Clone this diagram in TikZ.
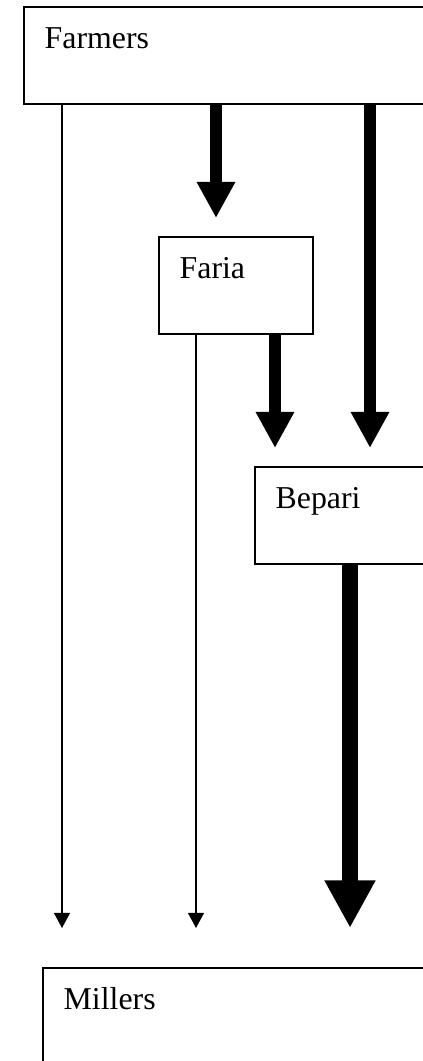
\documentclass[tikz,border=0pt]{standalone}
\usepackage{fontspec}
\setmainfont{Liberation Serif}
\usetikzlibrary{arrows.meta}

\newcommand{\varpx}{0.377pt}
\newcommand{\varthin}{0.57pt}
\newcommand{\varthick}{4.5pt}
\newcommand{\varheavy}{6.2pt}

\tikzset{
	trader/.style={draw, line width=0.75pt, anchor=north west, align=left,
		inner xsep=7.8pt, inner ysep=0pt, text height=15.6pt, text depth=20.8pt,
		font=\fontsize{12}{14}\selectfont},
	thinflow/.style={-{Triangle[width=6pt, length=5.7pt]}, line width=\varthin},
	thickflow/.style={-{Triangle[width=13.6pt, length=13.6pt]}, line width=\varthick},
	heavyflow/.style={-{Triangle[width=18pt, length=18pt]}, line width=\varheavy},
}

\begin{document}
\begin{tikzpicture}[x=\varpx, y=-\varpx]

	% frame
	\useasboundingbox (0,0) rectangle (423,1061);
	\clip (0,0) rectangle (423,1061);

	% boxes
	\node [trader, text width=141.4pt] (Farmers) at (23,6) {Farmers};
	\node [trader, text width=42.3pt] (Faria) at (158,236) {Faria};
	\node [trader, text width=54.3pt] (Bepari) at (254,466) {Bepari};
	\node [trader, text width=134.2pt] (Millers) at (42,967) {Millers};

	% direct to millers
	\draw [thinflow] ([shift={(39,0)}]Farmers.south west) -- ([shift={(20,-39)}]Millers.north west);
	\draw [thinflow] ([shift={(38,0)}]Faria.south west) -- ([shift={(154,-39)}]Millers.north west);

	% through traders
	\draw [thickflow] ([shift={(193,0)}]Farmers.south west) -- ([shift={(58,-18)}]Faria.north west);
	\draw [thickflow] ([shift={(347,0)}]Farmers.south west) -- ([shift={(116,-18)}]Bepari.north west);
	\draw [thickflow] ([shift={(117,0)}]Faria.south west) -- ([shift={(21,-18)}]Bepari.north west);
	\draw [heavyflow] ([shift={(96,0)}]Bepari.south west) -- ([shift={(308,-39)}]Millers.north west);

\end{tikzpicture}
\end{document}
